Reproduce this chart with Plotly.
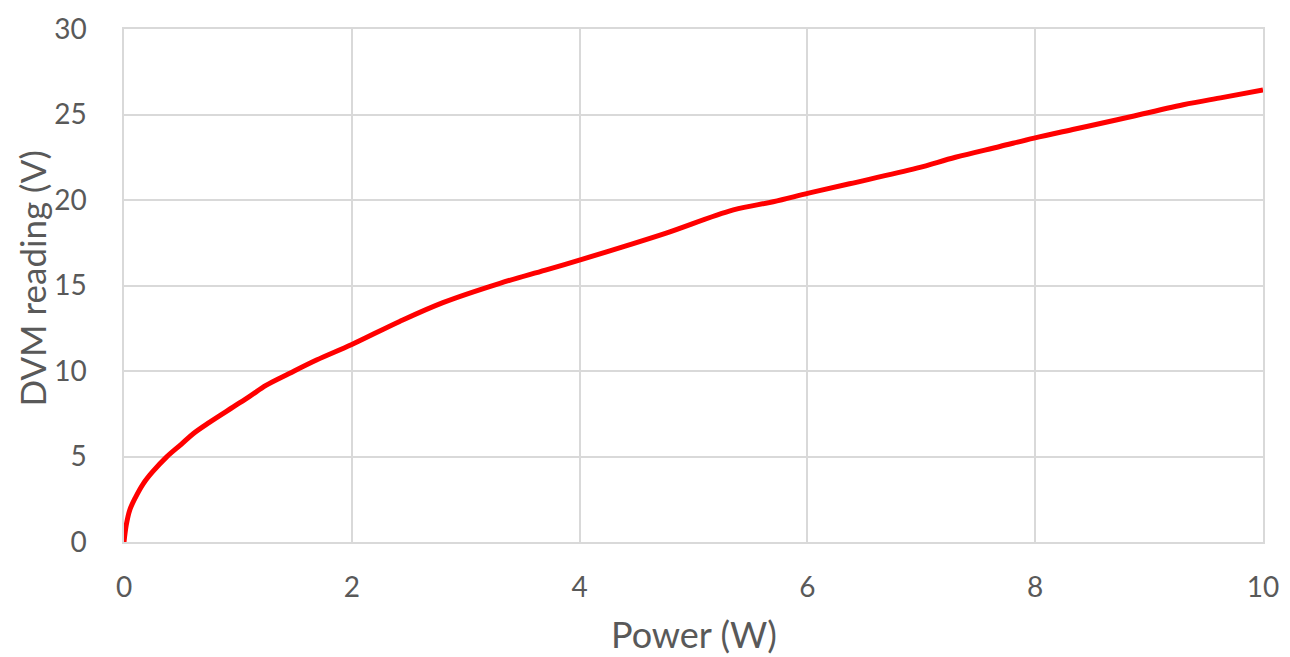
import plotly.graph_objects as go

power = [0, 0.02, 0.05, 0.1, 0.17, 0.25, 0.375, 0.5, 0.61, 0.75, 0.96, 1.1, 1.25,
         1.45, 1.69, 2.0, 2.42, 2.8, 3.3, 3.7, 4.02, 4.4, 4.76, 5.35, 5.7, 6.01,
         6.37, 6.96, 7.3, 7.69, 7.99, 8.35, 8.72, 9.3, 9.65, 10.0]
dvm = [0, 1.0, 1.86, 2.6, 3.42, 4.1, 4.98, 5.7, 6.35, 7.0, 7.9, 8.5, 9.17,
       9.85, 10.64, 11.55, 12.9, 14.0, 15.13, 15.9, 16.53, 17.3, 18.06, 19.42, 19.9, 20.4,
       20.95, 21.86, 22.5, 23.13, 23.62, 24.15, 24.69, 25.57, 26.0, 26.44]

x_ticks = [0, 2, 4, 6, 8, 10]
y_ticks = [0, 5, 10, 15, 20, 25, 30]
x_title = "Power (W)"
y_title = "DVM reading (V)"

FONT = "Lato, 'Open Sans', sans-serif"
GRID = "#d9d9d9"
TXT = "#595959"

fig = go.Figure()
fig.add_trace(go.Scatter(x=power, y=dvm, mode="lines",
                         line=dict(color="#ff0000", width=5, shape="spline"),
                         hoverinfo="skip", showlegend=False))

fig.update_layout(
    width=1290, height=657,
    margin=dict(l=116, r=35, t=21, b=123),
    paper_bgcolor="white", plot_bgcolor="white",
    font=dict(family=FONT, color=TXT, size=28),
    xaxis=dict(range=[0, 10], tickvals=x_ticks, showgrid=True, gridcolor=GRID,
               gridwidth=1.5, zeroline=False, showline=True, linecolor=GRID, linewidth=1.5,
               mirror=True, ticks="outside", ticklen=20, tickcolor="rgba(0,0,0,0)",
               tickfont=dict(size=28, color=TXT), automargin=False),
    yaxis=dict(range=[0, 30], tickvals=y_ticks, showgrid=True, gridcolor=GRID,
               gridwidth=1.5, zeroline=False, showline=True, linecolor=GRID, linewidth=1.5,
               mirror=True, ticks="outside", ticklen=30, tickcolor="rgba(0,0,0,0)",
               tickfont=dict(size=28, color=TXT), automargin=False),
    annotations=[
        dict(text=x_title, xref="paper", yref="paper", x=0.5, y=0,
             xanchor="center", yanchor="middle", yshift=-92, showarrow=False,
             font=dict(size=36, color=TXT, family=FONT)),
        dict(text=y_title, xref="paper", yref="paper", x=0, y=0.5, textangle=-90,
             xanchor="center", yanchor="middle", xshift=-93, yshift=7, showarrow=False,
             font=dict(size=35, color=TXT, family=FONT)),
    ],
)

fig.write_html("out.html")
